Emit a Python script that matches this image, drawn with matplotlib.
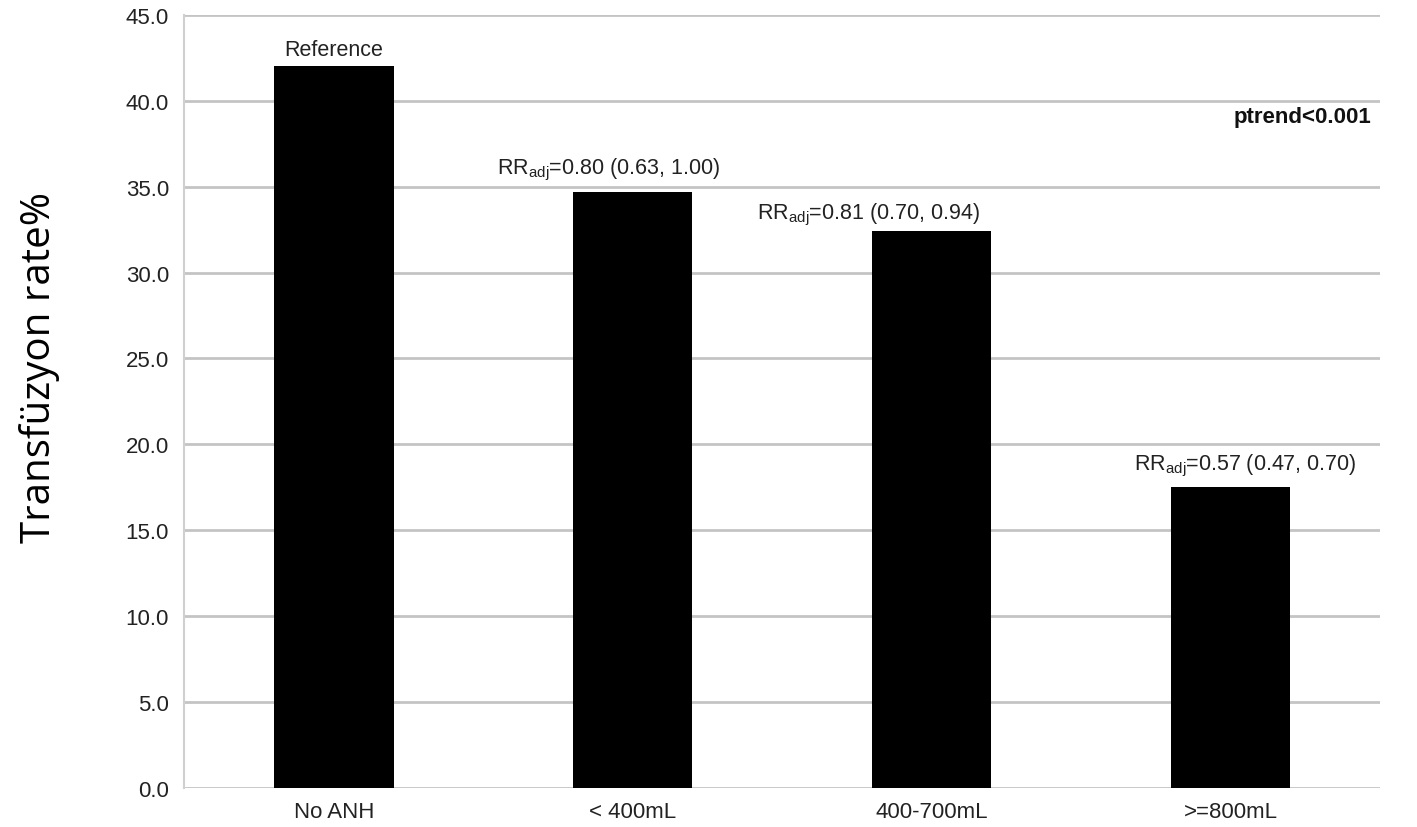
import matplotlib
matplotlib.use("Agg")
import matplotlib.pyplot as plt

categories = ["No ANH", "< 400mL", "400-700mL", ">=800mL"]
rates = [42.0, 34.7, 32.4, 17.5]
annotations = ["Reference",
               "RR$_{\\mathrm{adj}}$=0.80 (0.63, 1.00)",
               "RR$_{\\mathrm{adj}}$=0.81 (0.70, 0.94)",
               "RR$_{\\mathrm{adj}}$=0.57 (0.47, 0.70)"]
ann_dx = [0.0, -0.08, -0.21, 0.05]
ann_dy = [1.0, 1.3, 1.0, 1.3]
yticks = [0, 5, 10, 15, 20, 25, 30, 35, 40, 45]

plt.rcParams['font.family'] = ['Liberation Sans', 'DejaVu Sans']
plt.rcParams['mathtext.fontset'] = 'custom'
plt.rcParams['mathtext.rm'] = 'Liberation Sans'
plt.rcParams['mathtext.it'] = 'Liberation Sans'

fig = plt.figure(figsize=(14.17, 8.28), dpi=100)
ax = fig.add_axes([0.13, 0.047, 0.844, 0.934])

x = list(range(len(categories)))
ax.bar(x, rates, width=0.4, color='black', zorder=3)

ax.set_xlim(-0.5, len(categories) - 0.5)
ax.set_ylim(0, 45)
ax.set_yticks(yticks)
ax.set_yticklabels([f"{v:.1f}" for v in yticks], fontsize=16, color='#222222')
ax.set_xticks(x)
ax.set_xticklabels(categories, fontsize=16, color='#222222')
ax.tick_params(axis='both', length=0)
ax.tick_params(axis='x', pad=9)
ax.tick_params(axis='y', pad=11)

ax.grid(axis='y', color='#c4c4c4', linewidth=2, zorder=0)
for s in ['top', 'right', 'bottom']:
    ax.spines[s].set_visible(False)
ax.spines['left'].set_color('#d0d0d0')
ax.spines['left'].set_linewidth(1.5)

for i, (txt, dx, dy) in enumerate(zip(annotations, ann_dx, ann_dy)):
    ax.text(i + dx, rates[i] + dy, txt, ha='center', va='center',
            fontsize=15.5, color='#222222', zorder=4)

ax.text(0.993, 39.1, "ptrend<0.001", transform=ax.get_yaxis_transform(),
        ha='right', va='center', fontsize=16, fontweight='bold', color='#111111')

fig.text(0.028, 0.556, "Transfüzyon rate%", rotation=90, ha='center', va='center',
         fontsize=29, family=['Open Sans', 'DejaVu Sans'], color='black')

fig.savefig("out.png", dpi=100)
